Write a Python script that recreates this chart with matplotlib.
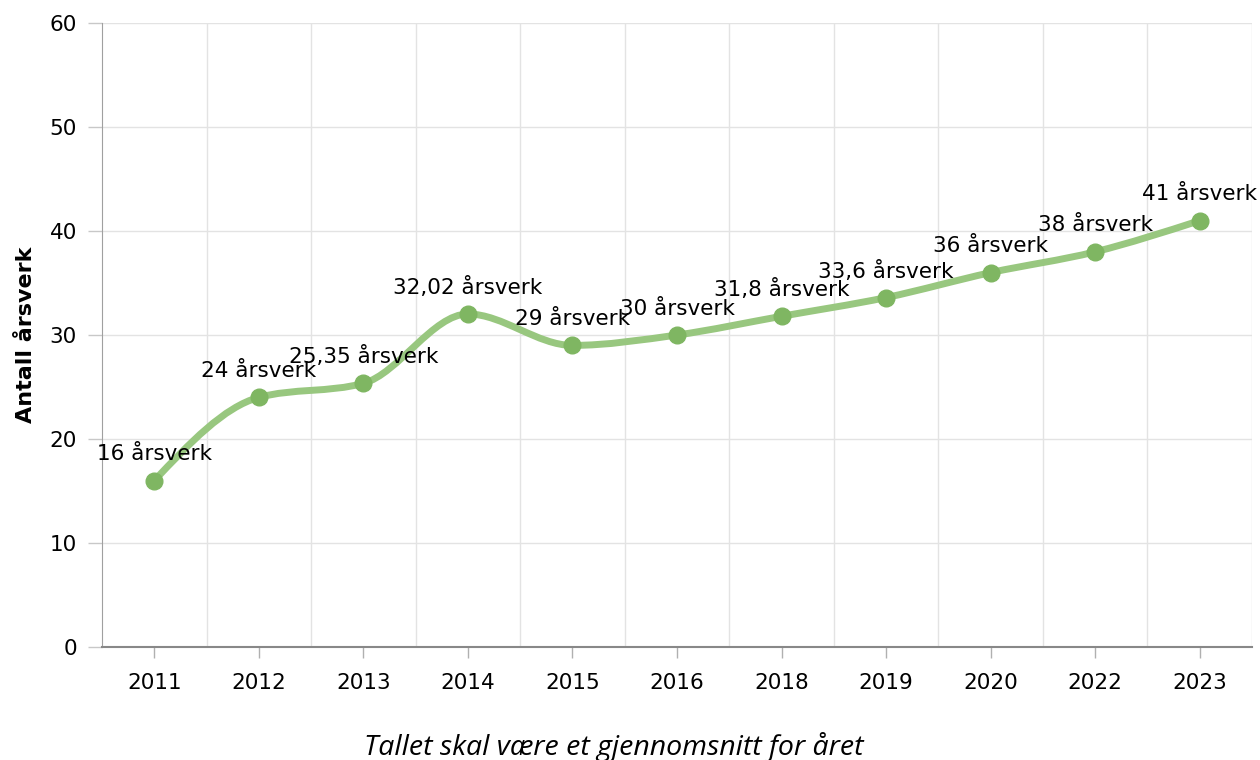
import numpy as np
import matplotlib.pyplot as plt
from matplotlib.path import Path
from matplotlib.patches import PathPatch

# Data
years = ['2011', '2012', '2013', '2014', '2015', '2016', '2018', '2019', '2020', '2022', '2023']
values = [16, 24, 25.35, 32.02, 29, 30, 31.8, 33.6, 36, 38, 41]
labels = ['16 årsverk', '24 årsverk', '25,35 årsverk', '32,02 årsverk', '29 årsverk',
          '30 årsverk', '31,8 årsverk', '33,6 årsverk', '36 årsverk', '38 årsverk', '41 årsverk']

line_color = '#98c77f'
marker_color = '#7fb662'
grid_color = '#e3e3e3'


# monotone cubic curve (same idea as d3 curveMonotoneX)
def monotone_path(x, y):
    n = len(x)
    h = np.diff(x)
    s = np.diff(y) / h
    t = np.zeros(n)
    for i in range(1, n - 1):
        p = (s[i - 1] * h[i] + s[i] * h[i - 1]) / (h[i - 1] + h[i])
        t[i] = (np.sign(s[i - 1]) + np.sign(s[i])) * min(abs(s[i - 1]), abs(s[i]), 0.5 * abs(p))
    t[0] = (3 * s[0] - t[1]) / 2
    t[-1] = (3 * s[-1] - t[-2]) / 2
    verts = [(x[0], y[0])]
    codes = [Path.MOVETO]
    for i in range(n - 1):
        dx = (x[i + 1] - x[i]) / 3
        verts += [(x[i] + dx, y[i] + dx * t[i]),
                  (x[i + 1] - dx, y[i + 1] - dx * t[i + 1]),
                  (x[i + 1], y[i + 1])]
        codes += [Path.CURVE4] * 3
    return Path(verts, codes)


x = np.arange(len(years))

fig = plt.figure(figsize=(12.6, 7.6), dpi=100)
ax = fig.add_axes([102 / 1260, 1 - 647 / 760, 1150 / 1260, 624 / 760])

ax.set_xlim(-0.5, len(years) - 0.5)
ax.set_ylim(0, 60)

# grid
for v in range(10, 61, 10):
    ax.axhline(v, color=grid_color, lw=1, zorder=0)
for b in np.arange(0.5, len(years), 1):
    ax.axvline(b, color=grid_color, lw=1, zorder=0)

path = monotone_path(x.astype(float), np.array(values, dtype=float))
ax.add_patch(PathPatch(path, facecolor='none', edgecolor=line_color, lw=5,
                       capstyle='round', joinstyle='round', zorder=2))
ax.plot(x, values, 'o', color=marker_color, markersize=12, zorder=3)

for xi, v, lab in zip(x, values, labels):
    ax.annotate(lab, (xi, v), xytext=(0, 19), textcoords='offset points',
                ha='center', va='center', fontsize=15.5, color='#000000', zorder=4)

ax.set_xticks(x)
ax.set_xticklabels(years)
ax.set_yticks(range(0, 61, 10))
ax.tick_params(axis='x', length=8, width=1, color='#b0b0b0', labelsize=15.5, pad=11)
ax.tick_params(axis='y', length=10, width=1, color='#c8c8c8', labelsize=15.5, pad=8)

for s in ['top', 'right']:
    ax.spines[s].set_visible(False)
ax.spines['left'].set_color('#a0a0a0')
ax.spines['bottom'].set_color('#888888')
ax.spines['bottom'].set_linewidth(1.5)

ax.set_ylabel('Antall årsverk', fontsize=16, fontweight='bold', labelpad=10)
fig.text(614 / 1260, 1 - 747 / 760, 'Tallet skal være et gjennomsnitt for året',
         ha='center', va='center', fontsize=20.5, style='italic', family='Open Sans')

fig.savefig('out.png', dpi=100)
